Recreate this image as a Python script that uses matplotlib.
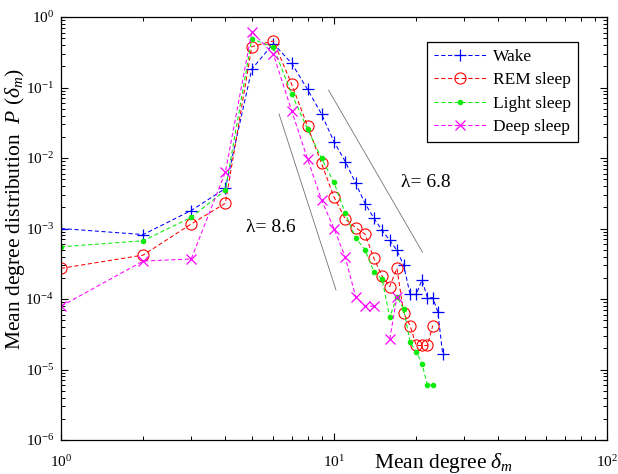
import numpy as np
import matplotlib
matplotlib.use("Agg")
import matplotlib.pyplot as plt
from matplotlib.ticker import LogLocator, NullFormatter

plt.rcParams['font.family'] = ['Liberation Serif', 'DejaVu Serif']
plt.rcParams['mathtext.fontset'] = 'custom'
plt.rcParams['mathtext.rm'] = 'Liberation Serif'
plt.rcParams['mathtext.it'] = 'Liberation Serif:italic'
plt.rcParams['mathtext.bf'] = 'Liberation Serif:bold'

# ---- data ----
degree_wake = np.arange(1, 26)
wake = [1.0e-3, 8.2e-4, 1.8e-3, 3.7e-3, 0.183, 0.42, 0.22, 0.094, 0.042, 0.017,
        8.9e-3, 4.4e-3, 2.26e-3, 1.40e-3, 9.4e-4, 6.8e-4, 4.9e-4, 3.0e-4, 1.16e-4,
        1.16e-4, 1.86e-4, 1.04e-4, 1.04e-4, 6.6e-5, 1.66e-5]

degree_rem = np.arange(1, 24)
rem = [2.72e-4, 4.2e-4, 1.16e-3, 2.28e-3, 0.38, 0.457, 0.111, 0.0284, 8.4e-3, 2.8e-3,
       1.36e-3, 1.03e-3, 8.3e-4, 3.78e-4, 2.12e-4, 1.5e-4, 2.72e-4, 6.3e-5, 4.2e-5,
       2.19e-5, 2.19e-5, 2.19e-5, 4.2e-5]

degree_light = np.arange(1, 24)
light = [5.5e-4, 6.7e-4, 1.44e-3, 3.5e-3, 0.49, 0.37, 0.081, 0.0258, 9.9e-3, 4.5e-3,
         1.64e-3, 7.4e-4, 4.95e-4, 2.44e-4, 1.92e-4, 5.5e-5, 1.08e-4, 7.2e-5, 2.43e-5,
         1.79e-5, 1.21e-5, 6.0e-6, 6.0e-6]

degree_deep = np.arange(1, 18)
deep = [7.9e-5, 3.45e-4, 3.7e-4, 6.3e-3, 0.62, 0.295, 0.0465, 9.7e-3, 2.54e-3, 1.0e-3,
        3.9e-4, 1.08e-4, 7.9e-5, 7.9e-5, np.nan, 2.7e-5, 1.08e-4]

# power-law guide lines (endpoints in data units)
guide_86_x = [6.29, 10.17]
guide_86_y = [0.0421, 1.34e-4]
guide_68_x = [9.55, 21.1]
guide_68_y = [0.092, 4.6e-4]

labels = ["Wake", "REM sleep", "Light sleep", "Deep sleep"]

# ---- figure ----
fig = plt.figure(figsize=(6.18, 4.74), dpi=100)
ax = fig.add_axes([61/618, 34/474, 546/618, 423/474])

dash = (4, 2.5)
lw = 0.75
ax.plot(degree_wake, wake, color=(0, 0, 1), ls='--', dashes=dash, lw=lw,
        marker='+', ms=8.5, mew=0.9, label=labels[0])
ax.plot(degree_rem, rem, color=(1, 0, 0), ls='--', dashes=dash, lw=lw,
        marker='o', ms=8, mfc='none', mew=0.8, label=labels[1])
ax.plot(degree_light, light, color=(0.05, 0.92, 0.05), ls='--', dashes=dash, lw=lw,
        marker='.', ms=6, label=labels[2])
ax.plot(degree_deep, deep, color=(1, 0, 1), ls='--', dashes=dash, lw=lw,
        marker='x', ms=7, mew=0.9, label=labels[3])

ax.plot(guide_86_x, guide_86_y, color='0.45', lw=0.6)
ax.plot(guide_68_x, guide_68_y, color='0.45', lw=0.6)

ax.text(5.88, 1.02e-3, "λ= 8.6", fontsize=14, ha='center', va='center')
ax.text(21.7, 4.42e-3, "λ= 6.8", fontsize=14, ha='center', va='center')

ax.set_xscale('log')
ax.set_yscale('log')
ax.set_xlim(1, 100)
ax.set_ylim(1e-6, 1)

ax.xaxis.set_major_locator(LogLocator(base=10, numticks=10))
ax.yaxis.set_major_locator(LogLocator(base=10, numticks=10))
ax.xaxis.set_minor_locator(LogLocator(base=10, subs=np.arange(2, 10), numticks=20))
ax.yaxis.set_minor_locator(LogLocator(base=10, subs=np.arange(2, 10), numticks=20))
ax.xaxis.set_minor_formatter(NullFormatter())
ax.yaxis.set_minor_formatter(NullFormatter())

ax.tick_params(which='both', direction='in', top=True, right=True, labelsize=11)
ax.tick_params(which='major', length=5, width=0.8)
ax.tick_params(which='minor', length=3, width=0.7)
ax.tick_params(axis='x', which='major', pad=10)
ax.tick_params(axis='y', which='major', pad=5)
for s in ax.spines.values():
    s.set_linewidth(0.9)

ax.set_xlabel(r"Mean degree $\delta_m$", fontsize=15.5)
ax.xaxis.set_label_coords(0.70, -0.026)
ax.set_ylabel(r"Mean degree distribution  $P\ (\delta_m)$", fontsize=15.5)
ax.yaxis.set_label_coords(-0.062, 0.545)

leg = ax.legend(loc='upper right', bbox_to_anchor=(0.947, 0.941), borderaxespad=0,
                fontsize=12.5, frameon=True, fancybox=False, framealpha=1,
                edgecolor='black', handlelength=3.0, labelspacing=0.42,
                borderpad=0.4, handletextpad=0.4)
leg.get_frame().set_linewidth(0.9)

fig.savefig("out.png", dpi=100)
